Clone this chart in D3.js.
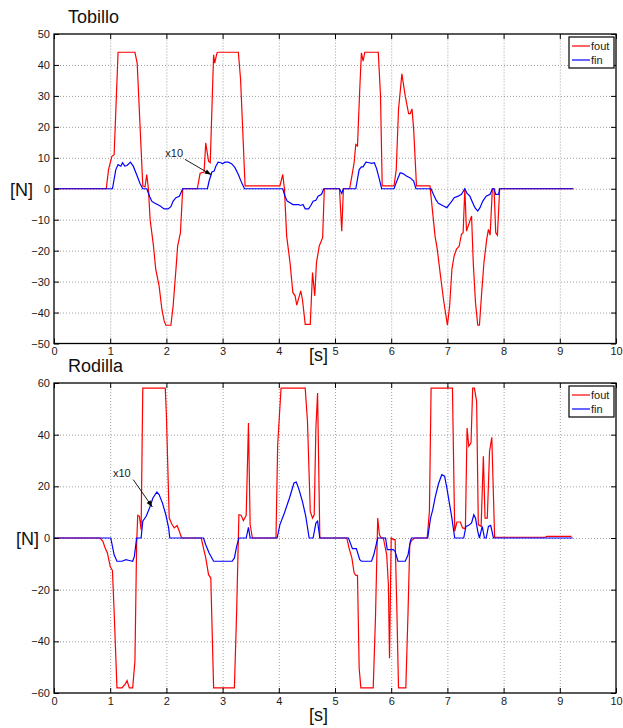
<!DOCTYPE html>
<html>
<head>
<meta charset="utf-8">
<script src="https://cdn.jsdelivr.net/npm/d3@7.9.0/dist/d3.min.js"></script>
<style>
  body { margin: 0; background: #fff; }
  svg { font-family: "Liberation Sans", Arial, sans-serif; }
  .grid line { stroke: #a0a0a0; stroke-dasharray: 1,2; }
  .grid path { display: none; }
  .ax path { display: none; }
  .ax line { stroke: #000; }
  .ax text { font-size: 11px; fill: #1a1a1a; }
</style>
</head>
<body>
<svg id="chart" width="623" height="728"></svg>
<script>
// tick labels
const xTicks = [0, 1, 2, 3, 4, 5, 6, 7, 8, 9, 10];
const tobilloYTicks = [-50, -40, -30, -20, -10, 0, 10, 20, 30, 40, 50];
const rodillaYTicks = [-60, -40, -20, 0, 20, 40, 60];

// Tobillo (ankle) - [t, N]
const tobilloFout = [
  [0, 0], [0.93, 0], [0.97, 6.2], [1.03, 10.5], [1.07, 11], [1.14, 44.1], [1.44, 44.1], [1.48, 40.6],
  [1.58, 0.9], [1.62, 0.6], [1.65, 4.6], [1.68, 0], [1.71, -9.9], [1.77, -18.5], [1.81, -26], [1.87, -31.4],
  [1.92, -39], [1.96, -42.7], [1.99, -44.1], [2.08, -44.1], [2.12, -37.8], [2.17, -26], [2.2, -18.5],
  [2.25, -14.2], [2.29, 0], [2.55, 0], [2.6, 5], [2.67, 5.4], [2.7, 14.8], [2.75, 8.9], [2.78, 8.4],
  [2.84, 43.3], [2.86, 40.6], [2.9, 43.9], [2.92, 44.1], [3.28, 44.1], [3.32, 35.3], [3.4, 0.9],
  [4.02, 0.9], [4.07, 4.6], [4.1, 0], [4.14, -15.3], [4.2, -23.9], [4.25, -33.5], [4.29, -34.6],
  [4.32, -37.6], [4.39, -33], [4.42, -35.7], [4.47, -43.8], [4.56, -43.8], [4.6, -27.1], [4.64, -34.6],
  [4.67, -23.9], [4.72, -18.5], [4.78, -15.8], [4.81, 0], [5.08, 0], [5.12, -13.7], [5.15, 0], [5.26, 0],
  [5.3, 4.1], [5.34, 8.4], [5.37, 14.3], [5.4, 13.8], [5.44, 32], [5.47, 43.9], [5.5, 41.2], [5.53, 44.1],
  [5.77, 44.1], [5.81, 29.9], [5.84, 0.9], [6.05, 0.9], [6.09, 6.2], [6.13, 25.6], [6.19, 37.1],
  [6.25, 29.9], [6.31, 24.3], [6.34, 24.3], [6.37, 25.8], [6.4, 19.1], [6.45, 0.9], [6.69, 0.9],
  [6.72, -4.5], [6.78, -15.3], [6.82, -19.6], [6.87, -27.1], [6.93, -35.7], [7.0, -44.1], [7.04, -37.8],
  [7.08, -26], [7.12, -21.7], [7.16, -19.6], [7.21, -18.5], [7.25, -14.7], [7.28, -14.2], [7.31, 0],
  [7.34, -13.7], [7.39, -11], [7.43, -8.8], [7.46, -23.9], [7.5, -36.8], [7.54, -44.1], [7.57, -44.1],
  [7.61, -33.5], [7.65, -23.9], [7.7, -16.3], [7.73, -13.1], [7.76, -15], [7.8, 0], [7.83, 0],
  [7.86, -14.2], [7.89, -15], [7.93, 0], [9.24, 0]
];
const tobilloFin = [
  [0, 0], [1.04, 0], [1.1, 6.2], [1.14, 7.8], [1.19, 7.3], [1.22, 8.4], [1.26, 7.3], [1.3, 7.5],
  [1.36, 8.6], [1.41, 7.3], [1.47, 4.6], [1.53, 1.7], [1.58, 0], [1.65, 0], [1.7, -2.4], [1.74, -4],
  [1.78, -4.5], [1.84, -5.1], [1.89, -5.6], [1.96, -6.5], [2.03, -6.5], [2.08, -5.8], [2.12, -4],
  [2.17, -2.9], [2.23, -2.4], [2.29, 0], [2.73, 0], [2.76, 2.5], [2.81, 5.4], [2.85, 5.7], [2.88, 7.3],
  [2.92, 8.6], [2.97, 8.4], [3.0, 8.1], [3.04, 8.6], [3.1, 8.6], [3.16, 8.1], [3.22, 6.8], [3.28, 4.6],
  [3.34, 1.9], [3.39, 0], [4.07, 0], [4.11, -2.4], [4.15, -4], [4.2, -4.5], [4.25, -5.1], [4.35, -5.1],
  [4.39, -5.4], [4.43, -5.1], [4.47, -6.5], [4.53, -6.5], [4.57, -5.4], [4.61, -4], [4.66, -3.7],
  [4.7, -2.4], [4.76, -1.8], [4.8, 0], [5.08, 0], [5.12, -1.5], [5.15, 0], [5.37, 0], [5.43, 6.2],
  [5.47, 7.1], [5.5, 7.1], [5.55, 8.6], [5.61, 8.4], [5.65, 8.2], [5.7, 8.4], [5.74, 6.5], [5.79, 3],
  [5.83, 0], [6.05, 0], [6.1, 2.5], [6.16, 5.2], [6.21, 4.9], [6.27, 4.1], [6.34, 3.5], [6.4, 2.5],
  [6.44, 0], [6.71, 0], [6.75, -1.8], [6.8, -3.7], [6.84, -4.7], [6.93, -5.6], [6.99, -6.1], [7.03, -5.1],
  [7.08, -4], [7.12, -2.9], [7.19, -2.4], [7.25, -1.8], [7.31, 0], [7.35, -1.5], [7.4, -2.4], [7.45, -4.5],
  [7.49, -6.1], [7.54, -7.2], [7.58, -6.1], [7.63, -4], [7.69, -2.4], [7.76, -1.8], [7.8, 0], [7.83, 0],
  [7.86, -1.8], [7.91, -1.8], [7.93, 0], [9.24, 0]
];

// Rodilla (knee)
const rodillaFout = [
  [0, 0], [0.82, 0], [0.87, -1.3], [0.91, -3.9], [0.95, -5.8], [1.0, -11], [1.04, -12.6], [1.07, -28.4],
  [1.12, -58], [1.21, -58], [1.27, -56.5], [1.3, -55.2], [1.34, -58], [1.4, -58], [1.44, -47.7],
  [1.47, -2.6], [1.49, 8.8], [1.52, 8.4], [1.55, 3.2], [1.58, 58], [1.98, 58], [2.0, 47.7], [2.05, 7.7],
  [2.1, 5.2], [2.14, 3.9], [2.19, 4.8], [2.23, 2.6], [2.26, 0.6], [2.28, 0], [2.62, 0], [2.66, -3.9],
  [2.7, -7.7], [2.75, -14.2], [2.79, -15.5], [2.84, -58], [3.21, -58], [3.25, -28.4], [3.29, 9],
  [3.33, 8.8], [3.37, 6.7], [3.42, 8.8], [3.46, 44.5], [3.49, 5.2], [3.53, 0], [3.95, 0], [3.98, 36.1],
  [4.04, 58], [4.47, 58], [4.51, 45.2], [4.56, 10.3], [4.6, 7.7], [4.63, 9], [4.66, 42.6], [4.69, 56.1],
  [4.73, 0], [5.21, 0], [5.25, -3.9], [5.3, -7.7], [5.34, -13.5], [5.37, -14.5], [5.4, -14.5],
  [5.43, -50.3], [5.46, -58], [5.68, -58], [5.72, -31], [5.76, 7.7], [5.79, 1.3], [5.82, 0], [5.86, 0],
  [5.92, -6.5], [5.95, -18], [5.97, -46.5], [6.0, 0], [6.04, -0.6], [6.07, -0.6], [6.1, -27.1],
  [6.13, -58], [6.26, -58], [6.3, -28.4], [6.33, -2.6], [6.36, -1], [6.42, 0], [6.64, 0], [6.68, 10.3],
  [6.71, 58], [7.09, 58], [7.13, 2.6], [7.17, 6.2], [7.23, 6.2], [7.27, 3.9], [7.32, 3.6], [7.35, 42.6],
  [7.38, 35.5], [7.42, 36.8], [7.45, 58], [7.48, 58], [7.52, 52.9], [7.55, 5.2], [7.6, 4.5], [7.64, 31.6],
  [7.67, 7.7], [7.71, 7.7], [7.75, 33.5], [7.79, 39], [7.84, 0.3], [8.74, 0.3], [8.77, 0.6], [9.21, 0.6]
];
const rodillaFin = [
  [0, 0], [1.01, 0], [1.07, -6.5], [1.12, -9], [1.21, -9], [1.28, -8.4], [1.34, -8.7], [1.4, -9],
  [1.43, -7.1], [1.47, 0], [1.55, 0], [1.58, 6.5], [1.64, 8.4], [1.7, 11.6], [1.76, 15.5], [1.83, 17.8],
  [1.87, 16.8], [1.93, 13.5], [1.99, 9], [2.04, 3.9], [2.06, 0], [2.66, 0], [2.7, -2.6], [2.76, -5.8],
  [2.84, -9], [3.17, -9], [3.21, -7.7], [3.25, -3.2], [3.29, 0], [3.42, 0], [3.46, 4.1], [3.49, 0],
  [3.97, 0], [4.02, 5.2], [4.1, 9.7], [4.19, 15.5], [4.27, 21.3], [4.31, 21.7], [4.35, 19.4], [4.42, 14.2],
  [4.48, 8.4], [4.54, 0], [4.61, 0], [4.66, 5.8], [4.69, 6.5], [4.73, 0], [5.24, 0], [5.31, -4.1],
  [5.38, -4.1], [5.44, -8.4], [5.47, -9], [5.65, -9], [5.69, -6.5], [5.76, 0], [5.9, 0], [5.93, -4.5],
  [6.04, -4.5], [6.07, -5.2], [6.12, -9], [6.25, -9], [6.3, -6.5], [6.34, -1.3], [6.36, 0], [6.65, 0],
  [6.7, 7.7], [6.74, 11], [6.78, 15.5], [6.84, 20.9], [6.9, 24.5], [6.95, 23.9], [6.99, 19.4], [7.03, 14.2],
  [7.08, 7.7], [7.13, 0], [7.29, 0], [7.33, 4.5], [7.38, 4.9], [7.43, 5.8], [7.47, 9], [7.5, 7.7],
  [7.54, 2.6], [7.57, 0], [7.62, 4.5], [7.66, 0], [7.69, 0], [7.73, 4.5], [7.77, 4.9], [7.82, 0], [9.23, 0]
];

const svg = d3.select('#chart');

function drawPanel(cfg) {
  const x = d3.scaleLinear().domain([0, 10]).range([cfg.left, cfg.right]);
  const y = d3.scaleLinear().domain(cfg.yDomain).range([cfg.bottom, cfg.top]);
  const w = cfg.right - cfg.left, h = cfg.bottom - cfg.top;
  const g = svg.append('g');

  // dotted grid
  g.append('g').attr('class', 'grid')
    .attr('transform', `translate(0,${cfg.bottom})`)
    .call(d3.axisBottom(x).tickValues(xTicks.slice(1, -1)).tickSize(-h).tickFormat(''));
  g.append('g').attr('class', 'grid')
    .attr('transform', `translate(${cfg.left},0)`)
    .call(d3.axisLeft(y).tickValues(cfg.yTicks.slice(1, -1)).tickSize(-w).tickFormat(''));

  // lines
  const line = d3.line().x(d => x(d[0])).y(d => y(d[1]));
  g.append('path').datum(cfg.fout).attr('d', line)
    .attr('fill', 'none').attr('stroke', '#ff0000').attr('stroke-width', 1.2);
  g.append('path').datum(cfg.fin).attr('d', line)
    .attr('fill', 'none').attr('stroke', '#0000ff').attr('stroke-width', 1.2);

  // axes with inward ticks
  g.append('g').attr('class', 'ax')
    .attr('transform', `translate(0,${cfg.bottom})`)
    .call(d3.axisBottom(x).tickValues(xTicks).tickSize(-5).tickPadding(4).tickFormat(d3.format('d')));
  g.append('g').attr('class', 'ax')
    .attr('transform', `translate(0,${cfg.top})`)
    .call(d3.axisTop(x).tickValues(xTicks).tickSize(-5).tickFormat(''));
  g.append('g').attr('class', 'ax')
    .attr('transform', `translate(${cfg.left},0)`)
    .call(d3.axisLeft(y).tickValues(cfg.yTicks).tickSize(-5).tickPadding(4)
      .tickFormat(d => d < 0 ? '\u2212' + Math.abs(d) : d));
  g.append('g').attr('class', 'ax')
    .attr('transform', `translate(${cfg.right},0)`)
    .call(d3.axisRight(y).tickValues(cfg.yTicks).tickSize(-5).tickFormat(''));

  g.append('rect')
    .attr('x', cfg.left).attr('y', cfg.top).attr('width', w).attr('height', h)
    .attr('fill', 'none').attr('stroke', '#000').attr('stroke-width', 1.3);

  // titles and axis labels
  g.append('text').attr('x', cfg.left + 14).attr('y', cfg.top - 11)
    .attr('font-size', 18).attr('fill', '#111').text(cfg.title);
  g.append('text').attr('x', cfg.nX).attr('y', y(0) + 7)
    .attr('font-size', 18).attr('fill', '#111').text('[N]');
  g.append('text').attr('x', 309).attr('y', cfg.sY)
    .attr('font-size', 18).attr('fill', '#111').text('[s]');

  // x10 annotation
  const a = cfg.arrow;
  g.append('text').attr('x', x(a.text[0])).attr('y', y(a.text[1]))
    .attr('font-size', 11).attr('fill', '#1a1a1a').text('x10');
  const x1 = x(a.from[0]), y1 = y(a.from[1]), x2 = x(a.to[0]), y2 = y(a.to[1]);
  g.append('line').attr('x1', x1).attr('y1', y1).attr('x2', x2).attr('y2', y2)
    .attr('stroke', '#000').attr('stroke-width', 0.9);
  const ang = Math.atan2(y2 - y1, x2 - x1), L = 7, s = 0.35;
  g.append('path')
    .attr('d', `M${x2},${y2}L${x2 - L * Math.cos(ang - s)},${y2 - L * Math.sin(ang - s)}` +
               `L${x2 - L * Math.cos(ang + s)},${y2 - L * Math.sin(ang + s)}Z`)
    .attr('fill', '#000');

  // legend
  const lg = g.append('g').attr('transform', `translate(${cfg.right - 47},${cfg.top + 3})`);
  lg.append('rect').attr('width', 45).attr('height', 31)
    .attr('fill', '#fff').attr('stroke', '#000').attr('stroke-width', 1.2);
  [['fout', '#ff0000'], ['fin', '#0000ff']].forEach(([lab, col], i) => {
    const yy = 9 + i * 14;
    lg.append('line').attr('x1', 3).attr('x2', 21).attr('y1', yy).attr('y2', yy)
      .attr('stroke', col).attr('stroke-width', 1.2);
    lg.append('text').attr('x', 22).attr('y', yy + 4)
      .attr('font-size', 11).attr('fill', '#1a1a1a').text(lab);
  });
}

drawPanel({
  title: 'Tobillo', left: 54, right: 616, top: 34, bottom: 343.5,
  yDomain: [-50, 50], yTicks: tobilloYTicks,
  fout: tobilloFout, fin: tobilloFin, nX: 10, sY: 361,
  arrow: { text: [1.98, 10.4], from: [2.33, 9.5], to: [2.8, 4.5] }
});
drawPanel({
  title: 'Rodilla', left: 54, right: 616, top: 383, bottom: 693,
  yDomain: [-60, 60], yTicks: rodillaYTicks,
  fout: rodillaFout, fin: rodillaFin, nX: 16, sY: 721,
  arrow: { text: [1.05, 23.5], from: [1.41, 22.6], to: [1.75, 12] }
});
</script>
</body>
</html>
